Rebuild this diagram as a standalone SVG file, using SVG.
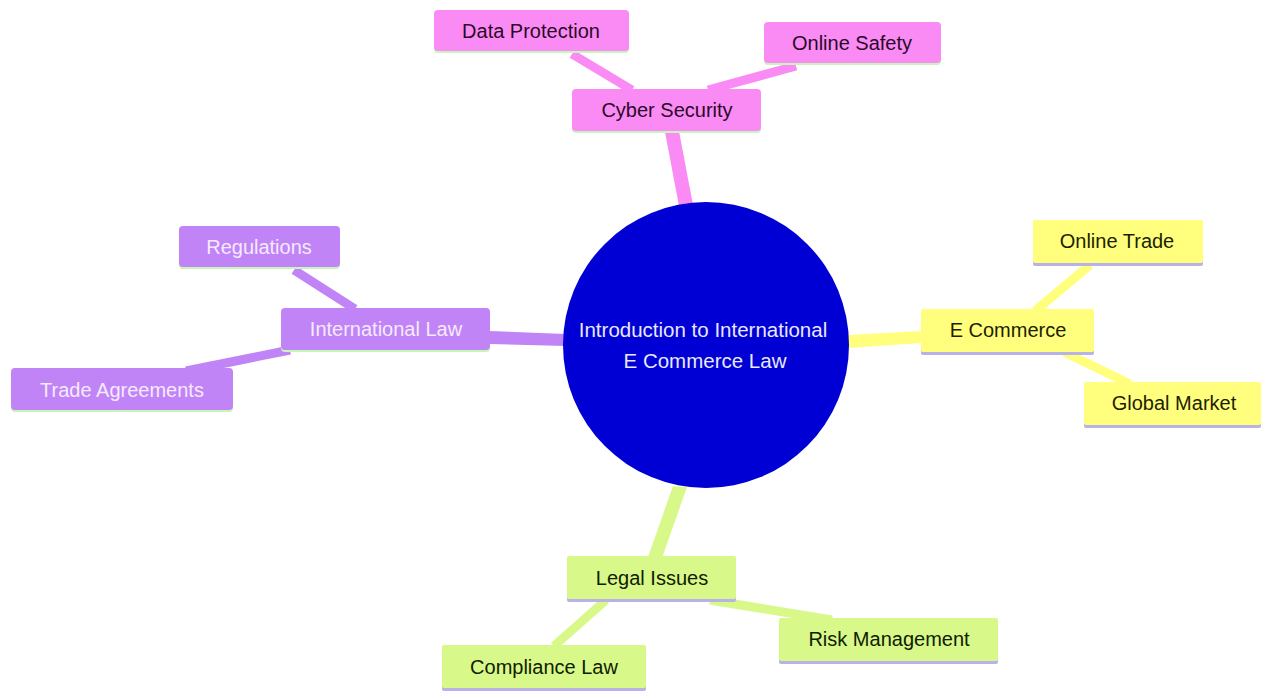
<svg xmlns="http://www.w3.org/2000/svg" width="1261" height="697" viewBox="0 0 1261 697">
<style>
text{font-family:"Liberation Sans",Arial,sans-serif;font-size:20px;text-anchor:middle;dominant-baseline:central}
.pk rect.b{fill:#fa8bf4}.pk text{fill:#2a0a28}
.pu rect.b{fill:#c184f6}.pu text{fill:#f4eaff}
.ye rect.b{fill:#ffff7d}.ye text{fill:#1e1e00}
.gr rect.b{fill:#d8f98a}.gr text{fill:#102000}
rect.sg{fill:#c8f5b8}rect.sl{fill:#b9b2e8}
</style>
<rect width="1261" height="697" fill="#ffffff"/>
<g id="connectors">
<polygon points="665,132 679,131 693,205 679,206" fill="#fa8bf4"/>
<line x1="572" y1="54" x2="632" y2="90" stroke="#fa8bf4" stroke-width="9"/>
<line x1="796" y1="66" x2="708" y2="90" stroke="#fa8bf4" stroke-width="9"/>
<polygon points="490,331 490,344 566,346 566,334" fill="#c184f6"/>
<line x1="294" y1="270" x2="355" y2="309" stroke="#c184f6" stroke-width="9"/>
<line x1="186" y1="371" x2="290" y2="350" stroke="#c184f6" stroke-width="9"/>
<polygon points="848,335 848,348 921,343 921,331" fill="#ffff7d"/>
<line x1="1090" y1="265" x2="1035" y2="311" stroke="#ffff7d" stroke-width="9"/>
<line x1="1064" y1="352" x2="1130" y2="384" stroke="#ffff7d" stroke-width="9"/>
<polygon points="673,486 687,487 662,558 648,557" fill="#d8f98a"/>
<line x1="606" y1="600" x2="554" y2="646" stroke="#d8f98a" stroke-width="9"/>
<line x1="710" y1="600" x2="832" y2="620" stroke="#d8f98a" stroke-width="9"/>
</g>
<g id="center">
<circle cx="706" cy="345" r="143" fill="#0000d4"/>
<text x="703" y="329" fill="#e8e8ff" style="font-size:20.5px">Introduction to International</text>
<text x="705" y="360" fill="#e8e8ff" style="font-size:20.5px">E Commerce Law</text>
</g>
<g id="cyber" class="pk"><rect class="sg" x="572" y="91" width="189" height="42" rx="4"/><rect class="b" x="572" y="89" width="189" height="42" rx="4"/><text x="667" y="110">Cyber Security</text></g>
<g id="dataprot" class="pk"><rect class="sg" x="434" y="12" width="195" height="41" rx="4"/><rect class="b" x="434" y="10" width="195" height="41" rx="4"/><text x="531" y="31">Data Protection</text></g>
<g id="safety" class="pk"><rect class="sg" x="764" y="24" width="177" height="41" rx="4"/><rect class="b" x="764" y="22" width="177" height="41" rx="4"/><text x="852" y="43">Online Safety</text></g>
<g id="intlaw" class="pu"><rect class="sg" x="281" y="310" width="209" height="42" rx="4"/><rect class="b" x="281" y="308" width="209" height="42" rx="4"/><text x="386" y="329">International Law</text></g>
<g id="regs" class="pu"><rect class="sg" x="179" y="228" width="161" height="41" rx="4"/><rect class="b" x="179" y="226" width="161" height="41" rx="4"/><text x="259" y="247">Regulations</text></g>
<g id="trade" class="pu"><rect class="sg" x="11" y="370" width="222" height="42" rx="4"/><rect class="b" x="11" y="368" width="222" height="42" rx="4"/><text x="122" y="390">Trade Agreements</text></g>
<g id="ecom" class="ye"><rect class="sl" x="921" y="312" width="173" height="43" rx="2"/><rect class="b" x="921" y="309" width="173" height="43" rx="2"/><text x="1008" y="330">E Commerce</text></g>
<g id="otrade" class="ye"><rect class="sl" x="1033" y="223" width="170" height="43" rx="2"/><rect class="b" x="1033" y="220" width="170" height="43" rx="2"/><text x="1117" y="241">Online Trade</text></g>
<g id="gmarket" class="ye"><rect class="sl" x="1084" y="385" width="177" height="43" rx="2"/><rect class="b" x="1084" y="382" width="177" height="43" rx="2"/><text x="1174" y="403">Global Market</text></g>
<g id="legal" class="gr"><rect class="sl" x="567" y="559" width="169" height="43" rx="2"/><rect class="b" x="567" y="556" width="169" height="43" rx="2"/><text x="652" y="578">Legal Issues</text></g>
<g id="compliance" class="gr"><rect class="sl" x="442" y="648" width="204" height="43" rx="2"/><rect class="b" x="442" y="645" width="204" height="43" rx="2"/><text x="544" y="667">Compliance Law</text></g>
<g id="risk" class="gr"><rect class="sl" x="779" y="621" width="219" height="43" rx="2"/><rect class="b" x="779" y="618" width="219" height="43" rx="2"/><text x="889" y="639">Risk Management</text></g>
</svg>
